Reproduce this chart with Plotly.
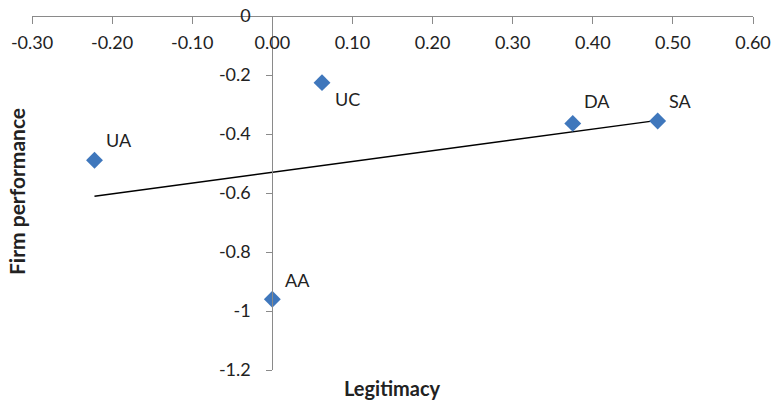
import numpy as np
import plotly.graph_objects as go

# Data
labels = ["UA", "UC", "AA", "DA", "SA"]
legitimacy = [-0.222, 0.062, 0.0, 0.375, 0.481]
performance = [-0.489, -0.226, -0.960, -0.364, -0.356]

x_ticks = [-0.30, -0.20, -0.10, 0.00, 0.10, 0.20, 0.30, 0.40, 0.50, 0.60]
y_ticks = [0, -0.2, -0.4, -0.6, -0.8, -1.0, -1.2]
y_tick_text = ["0", "-0.2", "-0.4", "-0.6", "-0.8", "-1", "-1.2"]

# label offsets (px) - styling
label_shift = {"UA": (25, 20), "UC": (25, -16), "AA": (25, 19), "DA": (24, 22), "SA": (23, 20)}

x_range = [-0.30, 0.60]
y_range = [-1.2, 0.0]

# linear trendline from data
slope, intercept = np.polyfit(legitimacy, performance, 1)
tx = np.array([min(legitimacy), max(legitimacy)])
ty = slope * tx + intercept

FONT = "Lato"
AXIS_COLOR = "#8a8a8a"
TXT = "#222222"
fig = go.Figure()

fig.add_trace(go.Scatter(
    x=tx, y=ty, mode="lines",
    line=dict(color="black", width=1.5),
    hoverinfo="skip", showlegend=False,
))
fig.add_trace(go.Scatter(
    x=legitimacy, y=performance, mode="markers",
    marker=dict(symbol="diamond", size=13, color="#3F77BC", line=dict(width=0)),
    showlegend=False,
))

for lab, xv, yv in zip(labels, legitimacy, performance):
    dx, dy = label_shift[lab]
    fig.add_annotation(x=xv, y=yv, text=lab, showarrow=False,
                       xshift=dx, yshift=dy,
                       font=dict(family=FONT, size=18, color=TXT))

ypos = (0 - x_range[0]) / (x_range[1] - x_range[0])

W, H = 774, 400
l, r, t, b = 32, 21, 16, 30
pw, ph = W - l - r, H - t - b

fig.update_layout(
    width=W, height=H,
    margin=dict(l=l, r=r, t=t, b=b, autoexpand=False),
    paper_bgcolor="white", plot_bgcolor="white",
    font=dict(family=FONT, size=18, color=TXT),
    xaxis=dict(
        range=x_range, tickvals=x_ticks,
        ticktext=[f"{v:.2f}" for v in x_ticks],
        showgrid=False, zeroline=False,
        showline=True, linecolor=AXIS_COLOR, linewidth=1,
        ticks="outside", ticklen=7, tickcolor=AXIS_COLOR, tickwidth=1,
        anchor="free", position=1, side="bottom", automargin=False,
        ticklabelstandoff=3,
        tickfont=dict(family=FONT, size=18, color=TXT),
        fixedrange=True,
    ),
    yaxis=dict(
        range=y_range, tickvals=y_ticks, ticktext=y_tick_text,
        showgrid=False, zeroline=False,
        showline=True, linecolor=AXIS_COLOR, linewidth=1,
        ticks="outside", ticklen=6, tickcolor=AXIS_COLOR, tickwidth=1,
        anchor="free", position=ypos, side="left", automargin=False,
        ticklabelstandoff=12,
        tickfont=dict(family=FONT, size=18, color=TXT),
        fixedrange=True,
    ),
)

# axis titles positioned in paper coords
fig.add_annotation(x=(392 - l) / pw, y=(H - b - 388) / ph, xref="paper", yref="paper",
                   xanchor="center", yanchor="middle",
                   text="<b>Legitimacy</b>", showarrow=False,
                   font=dict(family=FONT, size=20, color=TXT))
fig.add_annotation(x=(16 - l) / pw, y=(H - b - 192) / ph, xref="paper", yref="paper",
                   xanchor="center", yanchor="middle",
                   text="<b>Firm performance</b>", showarrow=False, textangle=-90,
                   font=dict(family=FONT, size=21, color=TXT))

fig.write_html("out.html")
